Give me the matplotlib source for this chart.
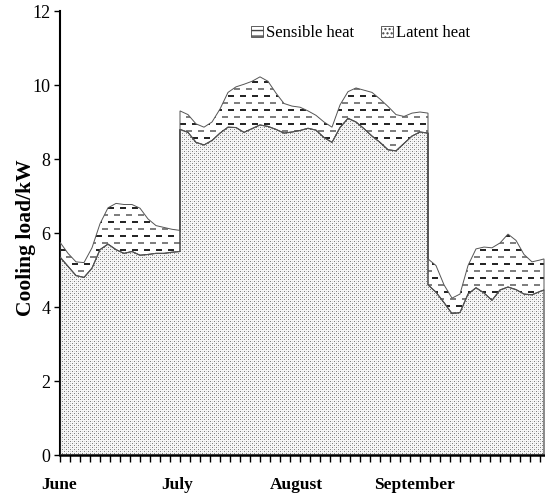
import numpy as np
import matplotlib
matplotlib.use("Agg")
import matplotlib.pyplot as plt
from matplotlib.patches import Polygon, Patch
from matplotlib.transforms import blended_transform_factory

plt.rcParams['font.family'] = ['Liberation Serif', 'DejaVu Serif']

# x = day counted from 1 June; a repeated day is the jump between blocks
june_days = [0, 2, 4, 6, 8, 10, 12, 14, 16, 18, 20, 22, 24, 26, 28, 30]
june_total = [5.75, 5.45, 5.22, 5.2, 5.6, 6.25, 6.68, 6.8, 6.77, 6.77, 6.67, 6.38, 6.2, 6.15, 6.1, 6.07]
june_latent = [5.35, 5.1, 4.85, 4.8, 5.05, 5.55, 5.7, 5.55, 5.45, 5.5, 5.4, 5.42, 5.45, 5.45, 5.48, 5.5]

julaug_days = [30, 32, 34, 36, 38, 40, 42, 44, 46, 48, 50, 52, 54, 56, 58, 60,
               62, 64, 66, 68, 70, 72, 74, 76, 78, 80, 82, 84, 86, 88, 90, 92]
julaug_total = [9.3, 9.2, 8.95, 8.86, 9.0, 9.35, 9.8, 9.95, 10.02, 10.1, 10.22, 10.1, 9.78, 9.5, 9.43, 9.4,
                9.3, 9.18, 9.0, 8.86, 9.46, 9.82, 9.92, 9.86, 9.8, 9.62, 9.42, 9.2, 9.15, 9.24, 9.27, 9.24]
julaug_latent = [8.8, 8.72, 8.45, 8.38, 8.5, 8.7, 8.86, 8.85, 8.72, 8.82, 8.92, 8.88, 8.8, 8.7, 8.73, 8.77,
                 8.83, 8.78, 8.58, 8.45, 8.85, 9.1, 9.0, 8.82, 8.62, 8.45, 8.25, 8.22, 8.42, 8.62, 8.73, 8.7]

sep_days = [92, 94, 96, 98, 100, 102, 104, 106, 108, 110, 112, 114, 116, 118, 120, 121]
sep_total = [5.3, 5.12, 4.6, 4.24, 4.35, 5.12, 5.57, 5.62, 5.6, 5.73, 5.97, 5.8, 5.42, 5.22, 5.27, 5.3]
sep_latent = [4.6, 4.4, 4.12, 3.82, 3.85, 4.35, 4.52, 4.38, 4.18, 4.46, 4.54, 4.47, 4.35, 4.33, 4.42, 4.46]

month_names = ["June", "July", "August", "September"]
month_label_days = [-0.25, 29.25, 59, 88.5]

days = np.array(june_days + julaug_days + sep_days, dtype=float)
total = np.array(june_total + julaug_total + sep_total)
latent = np.array(june_latent + julaug_latent + sep_latent)

xmax = 121.25
fig = plt.figure(figsize=(5.45, 4.99), dpi=100)
ax = fig.add_axes([60 / 545, 1 - 455 / 499, 485 / 545, 444 / 499])

# pixel textures for the two fills
H, W = 444, 485
yy, xx = np.mgrid[0:H, 0:W]

dots = np.full((H, W), 0.97)
dots[((xx % 4 == 0) & (yy % 4 == 0)) | ((xx % 4 == 2) & (yy % 4 == 2))] = 0.5
dots[((xx % 4 == 2) & (yy % 4 == 0)) | ((xx % 4 == 0) & (yy % 4 == 2))] = 0.85

dashes = np.ones((H, W))
row = yy // 7
shift = np.where(row % 2 == 0, 0, 6)
on = ((xx + shift) % 12 < 6) & (yy % 7 < 2)
dashes[on & (row % 2 == 0)] = 0.15
dashes[on & (row % 2 == 1)] = 0.5

# latent heat (bottom layer)
low_verts = [(days[0], 0)] + list(zip(days, latent)) + [(days[-1], 0)]
low_poly = Polygon(low_verts, closed=True, facecolor='none', edgecolor='#333333', lw=0.8, zorder=3)
ax.add_patch(low_poly)
im1 = ax.imshow(np.dstack([dots] * 3), extent=[0, xmax, 0, 12], aspect='auto',
                interpolation='nearest', origin='upper', zorder=2)
im1.set_clip_path(low_poly)

# sensible heat (stacked on top)
up_verts = list(zip(days, total)) + list(zip(days[::-1], latent[::-1]))
up_poly = Polygon(up_verts, closed=True, facecolor='none', edgecolor='#555555', lw=0.7, zorder=3)
ax.add_patch(up_poly)
im2 = ax.imshow(np.dstack([dashes] * 3), extent=[0, xmax, 0, 12], aspect='auto',
                interpolation='nearest', origin='upper', zorder=2)
im2.set_clip_path(up_poly)

ax.set_xlim(0, xmax)
ax.set_ylim(0, 12)

for s in ['top', 'right']:
    ax.spines[s].set_visible(False)
ax.spines['left'].set_linewidth(1.5)
ax.spines['bottom'].set_linewidth(1.8)

ax.set_xticks(np.arange(0, 121, 2.5))
ax.set_xticklabels([])
ax.tick_params(axis='x', length=5, width=1, direction='out')
ax.set_yticks(range(0, 13, 2))
ax.tick_params(axis='y', length=4, width=1, direction='out', labelsize=13, pad=3)

trans = blended_transform_factory(ax.transData, ax.transAxes)
for name, d in zip(month_names, month_label_days):
    ax.text(d, -0.068, name, transform=trans, ha='center', va='center',
            fontsize=12.5, fontweight='bold')

ax.set_ylabel("Cooling load/kW", fontsize=15.5, fontweight='bold')
ax.yaxis.set_label_coords(-0.05, 0.49)

handles = [Patch(facecolor='white', edgecolor='#444444', hatch='---', lw=0.6),
           Patch(facecolor='white', edgecolor='#444444', hatch='....', lw=0.6)]
ax.legend(handles, ["Sensible heat", "Latent heat"], loc='center', bbox_to_anchor=(0.62, 0.95),
          ncol=2, frameon=False, handlelength=0.7, handleheight=0.7, handletextpad=0.2,
          columnspacing=1.6, fontsize=12)

fig.savefig("out.png", dpi=100)
